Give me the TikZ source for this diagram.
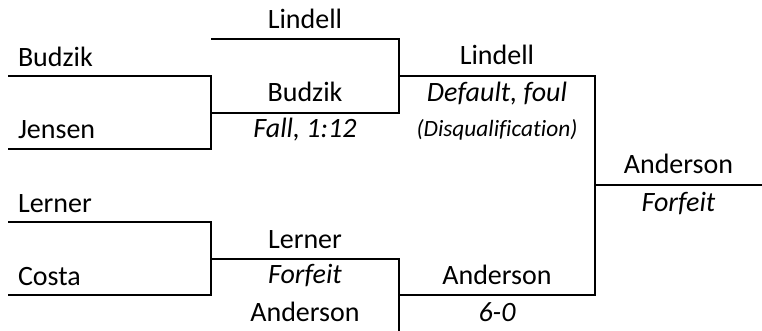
\documentclass[tikz,border=0pt]{standalone}
\usepackage{fontspec}
\setmainfont[Ligatures=CommonOff]{Carlito}
\usetikzlibrary{positioning}

\begin{document}
\begin{tikzpicture}[x=0.75pt, y=-0.75pt, line width=1.5pt,
    player/.style={inner sep=0pt, anchor=base, font=\fontsize{21}{25}\selectfont},
    result/.style={player, font=\fontsize{21}{25}\selectfont\itshape},
    note/.style={player, font=\fontsize{17.5}{21}\selectfont\itshape}]
    \useasboundingbox (0,0) rectangle (762,331);

    % round 1
    \coordinate (budzikW) at (8,76);   \coordinate (budzikE) at (211,76);
    \coordinate (jensenW) at (8,149);  \coordinate (jensenE) at (211,149);
    \coordinate (lernerW) at (8,222);  \coordinate (lernerE) at (211,222);
    \coordinate (costaW) at (8,295);   \coordinate (costaE) at (211,295);
    % round 2
    \coordinate (lindellW) at (211,39.5); \coordinate (lindellE) at (399,39.5);
    \coordinate (semiW) at (211,113);     \coordinate (semiE) at (399,113);
    \coordinate (lerner2W) at (211,259);  \coordinate (lerner2E) at (399,259);
    \coordinate (anderson2) at (399,331);
    % round 3
    \coordinate (winAW) at (399,76);  \coordinate (winAE) at (595,76);
    \coordinate (winBW) at (399,295); \coordinate (winBE) at (595,295);
    % final
    \coordinate (finalW) at (595,185); \coordinate (finalE) at (762,185);

    \draw (budzikW) -- (budzikE) -- (jensenE) -- (jensenW);
    \draw (lernerW) -- (lernerE) -- (costaE) -- (costaW);
    \draw (lindellW) -- (lindellE) -- (semiE) -- (semiW);
    \draw (lerner2W) -- (lerner2E) -- (anderson2);
    \draw (winAW) -- (winAE) -- (winBE) -- (winBW);
    \draw (finalW) -- (finalE);

    \node (budzik) [player, anchor=base west] at (17,67) {Budzik};
    \node (jensen) [player, anchor=base west] at (17,138.5) {Jensen};
    \node (lerner) [player, anchor=base west] at (17,212) {Lerner};
    \node (costa) [player, anchor=base west] at (17,285) {Costa};

    \node (lindell) [player] at (305,28.5) {Lindell};
    \node (budzik2) [player] at (305,101.5) {Budzik};
    \node (fall) [result] at (305,137.5) {Fall, 1:12};
    \node (lerner2) [player] at (305,248) {Lerner};
    \node (forfeit2) [result] at (305,283.5) {Forfeit};
    \node (anderson) [player] at (305,321.5) {Anderson};

    \node (lindell3) [player] at (497,65) {Lindell};
    \node (default) [result] at (497,101.5) {Default, foul};
    \node (disq) [note] at (497,136.5) {(Disqualification)};
    \node (anderson3) [player] at (497,284.5) {Anderson};
    \node (score) [result] at (497,321.5) {6-0};

    \node (champ) [player] at (678.5,174) {Anderson};
    \node (forfeit) [result] at (678.5,211.5) {Forfeit};
\end{tikzpicture}
\end{document}
